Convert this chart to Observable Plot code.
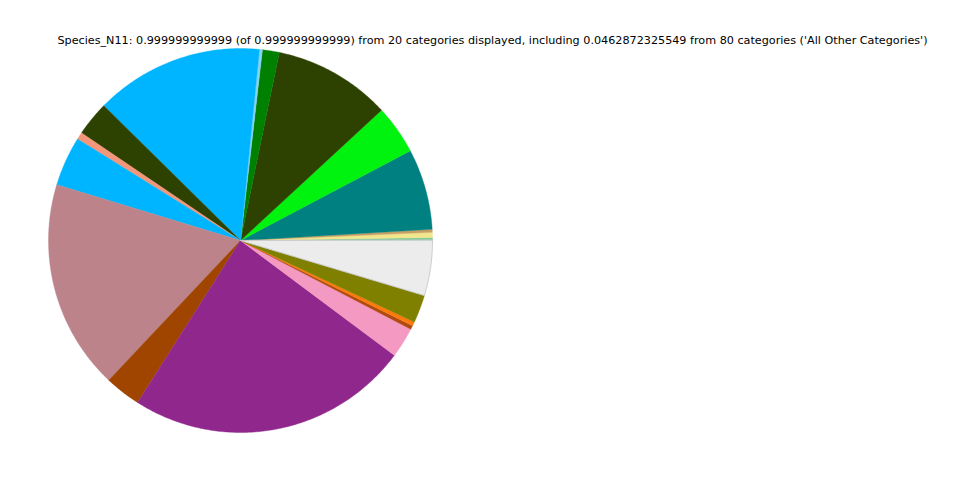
<!DOCTYPE html>
<html>
<head>
<meta charset="utf-8">
<script src="https://cdn.jsdelivr.net/npm/d3@7"></script>
<script src="https://cdn.jsdelivr.net/npm/@observablehq/plot@0.6"></script>
<style>
  html, body { margin: 0; padding: 0; background: #fff; }
  #wrap { position: relative; width: 960px; height: 480px; }
  #title { position: absolute; left: 0; width: 985px; top: 34px; text-align: center;
           font-family: "DejaVu Sans", sans-serif; font-size: 11.2px; color: #000; white-space: nowrap; }
</style>
</head>
<body>
<div id="wrap"><div id="title"></div></div>
<script>
const title = "Species_N11: 0.999999999999 (of 0.999999999999) from 20 categories displayed, including 0.0462872325549 from 80 categories ('All Other Categories')";

const categories = [
  "Category 1", "Category 2", "Category 3", "Category 4", "Category 5",
  "Category 6", "Category 7", "Category 8", "Category 9", "Category 10",
  "Category 11", "Category 12", "Category 13", "Category 14", "Category 15",
  "Category 16", "Category 17", "Category 18", "Category 19", "All Other Categories"
];
const values = [
  0.0024, 0.0044, 0.0025, 0.0681, 0.0414,
  0.0989, 0.0142, 0.0025, 0.1419, 0.0292,
  0.0061, 0.0417, 0.1767, 0.0303, 0.2381,
  0.0256, 0.0033, 0.0033, 0.0236, 0.0463
];
const colors = [
  "#7fc797", "#f2e68c", "#c8a064", "#008080", "#00f20f",
  "#2d4200", "#008000", "#87d4f5", "#00b5ff", "#2d4200",
  "#f4967a", "#00b5ff", "#bc838a", "#a04500", "#90278c",
  "#f49ac2", "#b04a10", "#ff7a0d", "#808000", "#ececec"
];

// Build wedge outlines (counterclockwise from 3 o'clock, like matplotlib)
const total = d3.sum(values);
const rows = [];
let acc = 0;
categories.forEach((c, i) => {
  const a0 = acc / total * 2 * Math.PI;
  acc += values[i];
  const a1 = acc / total * 2 * Math.PI;
  const n = Math.max(2, Math.ceil((a1 - a0) / 0.01));
  rows.push({category: c, x: 0, y: 0});
  for (let k = 0; k <= n; k++) {
    const a = a0 + (a1 - a0) * k / n;
    rows.push({category: c, x: Math.cos(a), y: Math.sin(a)});
  }
});

const chart = Plot.plot({
  width: 960,
  height: 480,
  marginLeft: 48,
  marginRight: 528,
  marginTop: 48,
  marginBottom: 48,
  x: {domain: [-1, 1], axis: null},
  y: {domain: [-1, 1], axis: null},
  color: {domain: categories, range: colors},
  marks: [
    Plot.line(rows, {
      x: "x", y: "y", z: "category",
      fill: "category",
      stroke: "category",
      strokeWidth: 0.4,
      curve: "linear-closed"
    }),
    Plot.line(rows.filter(d => d.category === "All Other Categories"), {
      x: "x", y: "y", z: "category",
      stroke: "#c4c4c4", strokeWidth: 0.8, curve: "linear-closed"
    })
  ]
});
document.getElementById("wrap").prepend(chart);
document.getElementById("title").textContent = title;
</script>
</body>
</html>
